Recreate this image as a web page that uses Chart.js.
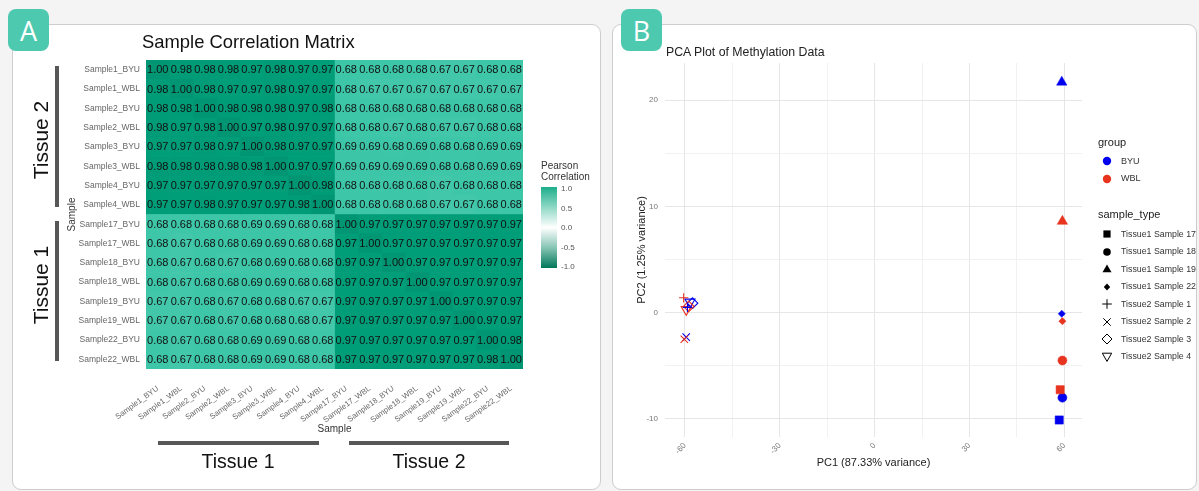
<!DOCTYPE html>
<html><head><meta charset="utf-8">
<script src="https://cdn.jsdelivr.net/npm/chart.js@4.4.1/dist/chart.umd.min.js"></script>
<style>
html,body{margin:0;padding:0;}
body{width:1199px;height:491px;background:#f4f4f4;position:relative;overflow:hidden;font-family:"Liberation Sans",Arial,Helvetica,sans-serif;}
.panel{position:absolute;background:#fff;border:1px solid #cdcdcd;border-radius:9px;box-sizing:border-box;}
.badge{position:absolute;background:#4dc9b0;border-radius:8px;color:#fff;font-family:"Open Sans","Noto Sans",sans-serif;font-size:27px;display:flex;align-items:center;justify-content:center;width:41px;height:42px;}
.abs{position:absolute;white-space:nowrap;line-height:1;}
.rot{transform:translate(-50%,-50%) rotate(-90deg);}
.bar{position:absolute;background:#575757;}
canvas{position:absolute;left:0;top:0;}
</style></head>
<body>
<div class="panel" style="left:12px;top:24px;width:589px;height:466px"></div>
<div class="panel" style="left:612px;top:24px;width:585px;height:466px"></div>
<div class="badge" style="left:8px;top:9px">A</div>
<div class="badge" style="left:621px;top:9px">B</div>

<div style="position:absolute;left:0;top:0;width:600px;height:491px"><canvas id="heat" width="600" height="491"></canvas></div>
<div style="position:absolute;left:600px;top:0;width:599px;height:491px"><canvas id="pca" width="599" height="491"></canvas></div>

<div class="abs" style="left:142px;top:33px;font-size:18.4px;color:#111">Sample Correlation Matrix</div>
<div class="bar" style="left:55px;top:66px;width:4px;height:141px"></div>
<div class="bar" style="left:55px;top:221px;width:4px;height:140px"></div>
<div class="abs rot" style="left:40px;top:140px;font-size:21px;color:#111">Tissue 2</div>
<div class="abs rot" style="left:40px;top:285px;font-size:21px;color:#111">Tissue 1</div>
<div class="bar" style="left:158px;top:441px;width:161px;height:4px"></div>
<div class="bar" style="left:349px;top:441px;width:160px;height:4px"></div>
<div class="abs" style="left:238px;top:452px;font-size:19.5px;color:#111;transform:translateX(-50%)">Tissue 1</div>
<div class="abs" style="left:429px;top:452px;font-size:19.5px;color:#111;transform:translateX(-50%)">Tissue 2</div>

<div class="abs" style="left:541px;top:160px;font-size:10px;color:#333;line-height:11px">Pearson<br>Correlation</div>
<div style="position:absolute;left:541px;top:187px;width:16px;height:81px;background:linear-gradient(to bottom,#1cae8b 0%,#8ed8c5 25%,#ffffff 50%,#86c4b3 75%,#00775a 100%)"></div>
<div id="heatLegendTicks"></div>

<div class="abs" style="left:666px;top:46px;font-size:12.3px;color:#222">PCA Plot of Methylation Data</div>
<div id="pcaLegend"></div>

<script>
// ---------- DATA ----------
const rowLabels = ['Sample1_BYU','Sample1_WBL','Sample2_BYU','Sample2_WBL','Sample3_BYU','Sample3_WBL','Sample4_BYU','Sample4_WBL',
  'Sample17_BYU','Sample17_WBL','Sample18_BYU','Sample18_WBL','Sample19_BYU','Sample19_WBL','Sample22_BYU','Sample22_WBL'];
const colLabels = rowLabels.slice();
const corrMatrix = [
  [1.00,0.98,0.98,0.98,0.97,0.98,0.97,0.97,0.68,0.68,0.68,0.68,0.67,0.67,0.68,0.68],
  [0.98,1.00,0.98,0.97,0.97,0.98,0.97,0.97,0.68,0.67,0.67,0.67,0.67,0.67,0.67,0.67],
  [0.98,0.98,1.00,0.98,0.98,0.98,0.97,0.98,0.68,0.68,0.68,0.68,0.68,0.68,0.68,0.68],
  [0.98,0.97,0.98,1.00,0.97,0.98,0.97,0.97,0.68,0.68,0.67,0.68,0.67,0.67,0.68,0.68],
  [0.97,0.97,0.98,0.97,1.00,0.98,0.97,0.97,0.69,0.69,0.68,0.69,0.68,0.68,0.69,0.69],
  [0.98,0.98,0.98,0.98,0.98,1.00,0.97,0.97,0.69,0.69,0.69,0.69,0.68,0.68,0.69,0.69],
  [0.97,0.97,0.97,0.97,0.97,0.97,1.00,0.98,0.68,0.68,0.68,0.68,0.67,0.68,0.68,0.68],
  [0.97,0.97,0.98,0.97,0.97,0.97,0.98,1.00,0.68,0.68,0.68,0.68,0.67,0.67,0.68,0.68],
  [0.68,0.68,0.68,0.68,0.69,0.69,0.68,0.68,1.00,0.97,0.97,0.97,0.97,0.97,0.97,0.97],
  [0.68,0.67,0.68,0.68,0.69,0.69,0.68,0.68,0.97,1.00,0.97,0.97,0.97,0.97,0.97,0.97],
  [0.68,0.67,0.68,0.67,0.68,0.69,0.68,0.68,0.97,0.97,1.00,0.97,0.97,0.97,0.97,0.97],
  [0.68,0.67,0.68,0.68,0.69,0.69,0.68,0.68,0.97,0.97,0.97,1.00,0.97,0.97,0.97,0.97],
  [0.67,0.67,0.68,0.67,0.68,0.68,0.67,0.67,0.97,0.97,0.97,0.97,1.00,0.97,0.97,0.97],
  [0.67,0.67,0.68,0.67,0.68,0.68,0.68,0.67,0.97,0.97,0.97,0.97,0.97,1.00,0.97,0.97],
  [0.68,0.67,0.68,0.68,0.69,0.69,0.68,0.68,0.97,0.97,0.97,0.97,0.97,0.97,1.00,0.98],
  [0.68,0.67,0.68,0.68,0.69,0.69,0.68,0.68,0.97,0.97,0.97,0.97,0.97,0.97,0.98,1.00]
];
const colorbarTicks = ['1.0','0.5','0.0','-0.5','-1.0'];

const pcaGroups = ['BYU','WBL'];
const pcaSampleTypes = ['Tissue1 Sample 17','Tissue1 Sample 18','Tissue1 Sample 19','Tissue1 Sample 22',
  'Tissue2 Sample 1','Tissue2 Sample 2','Tissue2 Sample 3','Tissue2 Sample 4'];
const pc1BYU = [58.4, 59.4, 59.2, 59.2, -59.2, -59.6, -57.6, -58.4];
const pc2BYU = [-10.1, -8.0, 21.7, -0.1, 0.5, -2.3, 0.9, 1.0];
const pc1WBL = [58.7, 59.4, 59.4, 59.4, -60.4, -60.2, -58.8, -59.6];
const pc2WBL = [-7.25, -4.5, 8.6, -0.8, 1.4, -2.5, 0.6, 0.3];
const yTicksPCA = [-10, -5, 0, 5, 10, 15, 20];
const xTicksPCA = [-60, -45, -30, -15, 0, 15, 30, 45, 60];

// ---------- STYLE ----------
const FONT = '"Liberation Sans", Arial, Helvetica, sans-serif';
Chart.defaults.font.family = FONT;
const groupColors = ['#0000ee', '#e8331f'];
const shapeStyles = [
  {pointStyle:'rect', r:5.8, fill:true, rot:0, icon:'square'},
  {pointStyle:'circle', r:4.5, fill:true, rot:0, icon:'circle'},
  {pointStyle:'triangle', r:6, fill:true, rot:0, icon:'triangle'},
  {pointStyle:'rectRot', r:3.6, fill:true, rot:0, icon:'diamond'},
  {pointStyle:'cross', r:4.6, fill:false, rot:0, icon:'plus'},
  {pointStyle:'crossRot', r:5.2, fill:false, rot:0, icon:'cross'},
  {pointStyle:'rectRot', r:5.3, fill:false, rot:0, icon:'diamondOpen'},
  {pointStyle:'triangle', r:5.8, fill:false, rot:180, icon:'triangleDown'}
];

const fillStops = [[-1,[0,112,84]],[0,[255,255,255]],[0.5,[150,222,204]],[0.68,[62,198,168]],[0.97,[0,157,121]],[1,[0,150,115]]];
function fillFor(v){
  for (let i=0;i<fillStops.length-1;i++){
    const [a,ca]=fillStops[i],[b,cb]=fillStops[i+1];
    if (v>=a && v<=b){
      const t=(v-a)/(b-a);
      const c=ca.map((x,k)=>Math.round(x+(cb[k]-x)*t));
      return `rgb(${c[0]},${c[1]},${c[2]})`;
    }
  }
  return 'rgb(0,150,115)';
}

// colorbar tick labels
(function(){
  const el=document.getElementById('heatLegendTicks');
  const tops=[189,209,228,248,267];
  colorbarTicks.forEach((t,i)=>{
    const d=document.createElement('div');
    d.className='abs';
    d.style.cssText=`left:561px;top:${tops[i]-4}px;font-size:8px;color:#555`;
    d.textContent=t; el.appendChild(d);
  });
})();

// ---------- HEATMAP ----------
const cellText = {
  id:'cellText',
  afterDatasetsDraw(chart){
    const ctx=chart.ctx;
    ctx.save();
    ctx.font='11px '+FONT; ctx.fillStyle='#111'; ctx.textAlign='center'; ctx.textBaseline='middle';
    chart.data.datasets.forEach((ds,c)=>{
      chart.getDatasetMeta(c).data.forEach((el,r)=>{
        ctx.fillText(corrMatrix[r][c].toFixed(2),(el.x+el.base)/2,el.y+0.5);
      });
    });
    ctx.restore();
  }
};

new Chart(document.getElementById('heat'),{
  type:'bar',
  data:{
    labels:rowLabels,
    datasets:colLabels.map((name,c)=>({
      label:name,
      data:rowLabels.map(()=>[c,c+1]),
      backgroundColor:rowLabels.map((_,r)=>fillFor(corrMatrix[r][c])),
      borderWidth:0, grouped:false, barPercentage:1, categoryPercentage:1
    }))
  },
  options:{
    indexAxis:'y', responsive:false, animation:false,
    layout:{padding:{left:62,right:77,top:60,bottom:52}},
    plugins:{legend:{display:false},tooltip:{enabled:false}},
    scales:{
      x:{type:'linear',min:0,max:16,
        afterBuildTicks:s=>{s.ticks=colLabels.map((_,i)=>({value:i+0.5}));},
        afterFit:s=>{s.height=70;},
        grid:{display:false,drawTicks:false},border:{display:false},
        ticks:{autoSkip:false,minRotation:36,maxRotation:36,padding:15,color:'#666',font:{size:7.8},
          callback:(v,i)=>colLabels[i]},
        title:{display:true,text:'Sample',color:'#333',font:{size:10},padding:{top:4,bottom:4}}
      },
      y:{type:'category',
        afterFit:s=>{s.width=84;},
        grid:{display:false,drawTicks:false},border:{display:false},
        ticks:{padding:6,color:'#666',font:{size:8.5}},
        title:{display:true,text:'Sample',color:'#333',font:{size:10},padding:{top:4,bottom:4}}
      }
    }
  },
  plugins:[cellText]
});

// ---------- PCA ----------
new Chart(document.getElementById('pca'),{
  type:'scatter',
  data:{
    datasets:pcaSampleTypes.map((name,i)=>{
      const st=shapeStyles[i];
      return {
        label:name,
        data:[{x:pc1BYU[i],y:pc2BYU[i]},{x:pc1WBL[i],y:pc2WBL[i]}],
        pointStyle:st.pointStyle, pointRotation:st.rot, pointRadius:st.r, pointHoverRadius:st.r,
        backgroundColor:st.fill?groupColors:'rgba(0,0,0,0)',
        borderColor:groupColors,
        borderWidth:st.fill?0.5:1.1
      };
    })
  },
  options:{
    responsive:false, animation:false,
    layout:{padding:{left:31,right:117,top:63,bottom:17}},
    plugins:{legend:{display:false},tooltip:{enabled:false}},
    scales:{
      x:{type:'linear',min:-66.3,max:65.6,
        afterBuildTicks:s=>{s.ticks=xTicksPCA.map(v=>({value:v}));},
        afterFit:s=>{s.height=37;},
        border:{display:false},
        grid:{drawTicks:false,color:c=>(c.tick&&c.tick.value%30===0)?'#e6e6e6':'#f1f1f1',lineWidth:1},
        ticks:{autoSkip:false,minRotation:45,maxRotation:45,padding:4,color:'#777',font:{size:8},
          callback:v=>(v%30===0?String(v):'')},
        title:{display:true,text:'PC1 (87.33% variance)',color:'#222',font:{size:11},padding:{top:4,bottom:4}}
      },
      y:{type:'linear',min:-11.7,max:23.5,
        afterBuildTicks:s=>{s.ticks=yTicksPCA.map(v=>({value:v}));},
        afterFit:s=>{s.width=34;},
        border:{display:false},
        grid:{drawTicks:false,color:c=>(c.tick&&c.tick.value%10===0)?'#e6e6e6':'#f1f1f1',lineWidth:1},
        ticks:{padding:7,color:'#777',font:{size:8},callback:v=>(v%10===0?String(v):'')},
        title:{display:true,text:'PC2 (1.25% variance)',color:'#222',font:{size:11},padding:{top:4,bottom:4}}
      }
    }
  }
});

// ---------- PCA legend ----------
function svgIcon(kind,color){
  let s='';
  switch(kind){
    case 'dot': s=`<circle cx="7" cy="7" r="4.2" fill="${color}"/>`; break;
    case 'square': s=`<rect x="3.4" y="3.4" width="7.2" height="7.2" fill="${color}"/>`; break;
    case 'circle': s=`<circle cx="7" cy="7" r="3.8" fill="${color}"/>`; break;
    case 'triangle': s=`<polygon points="7,2.4 11.5,10.2 2.5,10.2" fill="${color}"/>`; break;
    case 'diamond': s=`<polygon points="7,3.6 10.2,7 7,10.4 3.8,7" fill="${color}"/>`; break;
    case 'plus': s=`<path d="M7 2.2V11.8M2.2 7H11.8" stroke="${color}" stroke-width="1"/>`; break;
    case 'cross': s=`<path d="M3.3 3.3L10.7 10.7M10.7 3.3L3.3 10.7" stroke="${color}" stroke-width="1"/>`; break;
    case 'diamondOpen': s=`<polygon points="7,2 12,7 7,12 2,7" fill="none" stroke="${color}" stroke-width="1"/>`; break;
    case 'triangleDown': s=`<polygon points="2.3,3.2 11.7,3.2 7,11.4" fill="none" stroke="${color}" stroke-width="1"/>`; break;
  }
  return `<svg width="14" height="14" viewBox="0 0 14 14" style="position:absolute">${s}</svg>`;
}
(function(){
  const el=document.getElementById('pcaLegend');
  let html=`<div class="abs" style="left:1098px;top:137px;font-size:11px;color:#222">group</div>`;
  const gy=[161.3,178.7];
  pcaGroups.forEach((g,i)=>{
    html+=`<div style="position:absolute;left:${1106.7-7}px;top:${gy[i]-7}px">${svgIcon('dot',groupColors[i])}</div>`;
    html+=`<div class="abs" style="left:1121px;top:${gy[i]-4.5}px;font-size:9px;color:#333">${g}</div>`;
  });
  html+=`<div class="abs" style="left:1098px;top:209px;font-size:11px;color:#222">sample_type</div>`;
  pcaSampleTypes.forEach((t,i)=>{
    const y=234.3+i*17.49;
    html+=`<div style="position:absolute;left:${1106.7-7}px;top:${y-7}px">${svgIcon(shapeStyles[i].icon,'#000')}</div>`;
    html+=`<div class="abs" style="left:1121px;top:${y-4.5}px;font-size:8.8px;color:#333">${t}</div>`;
  });
  el.innerHTML=html;
})();
</script>
</body></html>
